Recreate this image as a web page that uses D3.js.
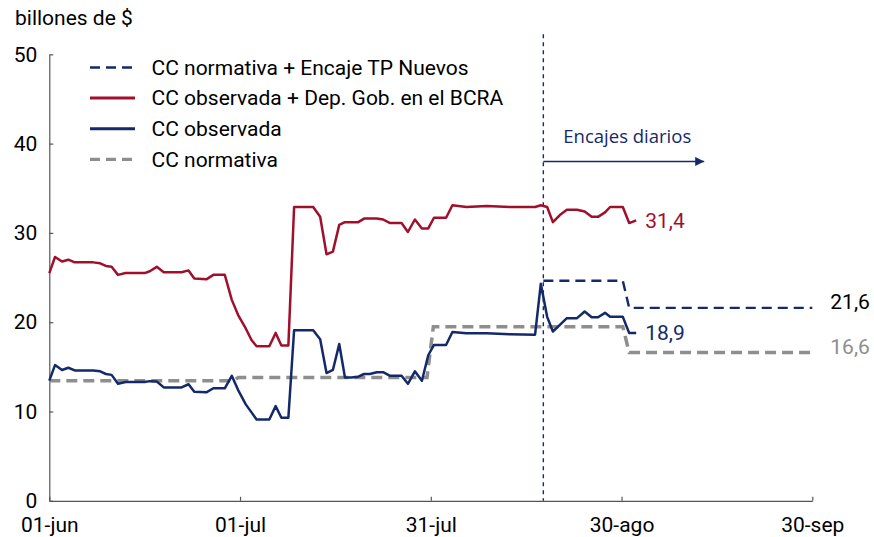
<!DOCTYPE html>
<html>
<head>
<meta charset="utf-8">
<script src="https://cdn.jsdelivr.net/npm/d3@7"></script>
<style>
  html, body { margin: 0; padding: 0; background: #fff; }
  svg { display: block; font-family: Roboto, "Noto Sans", sans-serif; }
</style>
</head>
<body>
<svg id="chart" width="874" height="537"></svg>
<script>
// ---------- DATA ----------
const xTickDays   = [0, 30, 60, 90, 120];
const xTickLabels = ["01-jun", "01-jul", "31-jul", "30-ago", "30-sep"];
const yTicks      = [0, 10, 20, 30, 40, 50];

// days since 01-jun for the observed series
const obsDays = [0, 0.9, 2, 3, 4, 6.9, 8, 8.9, 9.8, 10.8, 12, 15, 15.8, 16.9, 18, 20.8, 21.9, 22.8, 24.7, 25.8,
  27.6, 28.7, 29.7, 30.9, 31.8, 32.6, 34.6, 35.6, 36.5, 37.6, 38.5, 41.5, 42.6, 43.6, 44.6, 45.6, 46.5, 47.5,
  48.6, 49.5, 50.4, 51.5, 52.5, 53.6, 55.4, 56.4, 57.5, 58.6, 59.6, 60.5, 62.4, 63.4, 65.6, 68.8, 72.4, 76.4,
  77.3, 78.3, 79.2, 80.3, 81.4, 83, 84.2, 85.3, 86.3, 87.4, 88.2, 90.2, 91.2, 92.3];

// CC observada + Dep. Gob. en el BCRA
const ccObsGob = [25.5, 27.3, 26.8, 27.0, 26.7, 26.7, 26.6, 26.3, 26.2, 25.3, 25.5, 25.5, 25.7, 26.2, 25.6, 25.6, 25.8, 24.9, 24.8, 25.3,
  25.3, 22.5, 20.8, 19.3, 18.0, 17.3, 17.3, 18.8, 17.4, 17.4, 32.9, 32.9, 31.8, 27.6, 27.9, 30.9, 31.2, 31.2,
  31.2, 31.6, 31.6, 31.6, 31.5, 31.1, 31.1, 30.1, 31.5, 30.5, 30.5, 31.7, 31.7, 33.1, 32.9, 33.0, 32.9, 32.9,
  33.1, 32.9, 31.2, 32.0, 32.6, 32.6, 32.4, 31.8, 31.8, 32.3, 32.9, 32.9, 31.1, 31.4];

// CC observada
const ccObs = [13.45, 15.2, 14.65, 14.9, 14.6, 14.6, 14.5, 14.2, 14.1, 13.1, 13.3, 13.3, 13.4, 13.35, 12.7, 12.7, 13.05, 12.2, 12.15, 12.6,
  12.6, 14.0, 12.4, 10.8, 9.9, 9.1, 9.1, 10.6, 9.3, 9.3, 19.1, 19.1, 18.1, 14.3, 14.65, 17.55, 13.8, 13.8,
  13.9, 14.2, 14.2, 14.4, 14.4, 14.0, 14.0, 13.1, 14.5, 13.45, 16.3, 17.45, 17.45, 18.9, 18.75, 18.75, 18.65, 18.6,
  24.3, 20.6, 18.95, 19.7, 20.45, 20.45, 21.2, 20.55, 20.55, 21.05, 20.6, 20.6, 18.8, 18.8];

// CC normativa (step series)
const normDays   = [0, 29, 29.7, 59.4, 60.4, 90.2, 91.2, 120];
const ccNorm     = [13.45, 13.45, 13.8, 13.8, 19.5, 19.5, 16.6, 16.6];

// CC normativa + Encaje TP Nuevos
const normTPDays = [77.7, 90.2, 91.2, 120];
const ccNormTP   = [24.65, 24.65, 21.6, 21.6];

const encajesStartDay = 77.7;
const arrowEndDay = 103;
const arrowValue = 38;
const encajesLabel = "Encajes diarios";

const seriesNames = [
  "CC normativa + Encaje TP Nuevos",
  "CC observada + Dep. Gob. en el BCRA",
  "CC observada",
  "CC normativa"
];
const endLabels = { obsGob: "31,4", obs: "18,9", normTP: "21,6", norm: "16,6" };

// ---------- STYLE ----------
const RED = "#A0102D", NAVY = "#13296A", GRAY = "#8E8E8E", AXIS = "#555";
const FS = "21px";

const svg = d3.select("#chart");
const x = d3.scaleLinear().domain([0, 120]).range([49.3, 812.3]);
const y = d3.scaleLinear().domain([0, 50]).range([500.8, 54.3]);

const zip = (xs, ys) => xs.map((d, i) => [d, ys[i]]);
const line = d3.line().x(d => x(d[0])).y(d => y(d[1]));

// axes
const xAxis = d3.axisBottom(x).tickValues(xTickDays)
  .tickFormat((d, i) => xTickLabels[i]).tickSizeInner(-4).tickSizeOuter(0).tickPadding(16);
const yAxis = d3.axisLeft(y).tickValues(yTicks)
  .tickSizeInner(-4).tickSizeOuter(0).tickPadding(12);

const gx = svg.append("g").attr("transform", `translate(0,${y(0)})`).call(xAxis);
const gy = svg.append("g").attr("transform", `translate(${x(0)},0)`).call(yAxis);
[gx, gy].forEach(g => {
  g.select(".domain").attr("stroke", AXIS).attr("stroke-width", 1.2);
  g.selectAll(".tick line").attr("stroke", AXIS).attr("stroke-width", 1.2);
  g.selectAll(".tick text").attr("fill", "#000").style("font-size", FS)
    .style("font-family", "Roboto, sans-serif");
});

// unit label
svg.append("text").attr("x", 15).attr("y", 25).text("billones de $")
  .style("font-size", FS).attr("fill", "#000");

// vertical marker
svg.append("line")
  .attr("x1", x(encajesStartDay)).attr("x2", x(encajesStartDay))
  .attr("y1", y(50) - 20).attr("y2", y(0))
  .attr("stroke", NAVY).attr("stroke-width", 1.4).attr("stroke-dasharray", "4,4");

// arrow
svg.append("defs").append("marker")
  .attr("id", "arrow").attr("viewBox", "0 0 10 10").attr("refX", 10).attr("refY", 5)
  .attr("markerWidth", 10).attr("markerHeight", 9).attr("markerUnits", "userSpaceOnUse")
  .attr("orient", "auto")
  .append("path").attr("d", "M0,0 L10,5 L0,10 Z").attr("fill", NAVY);
svg.append("line")
  .attr("x1", x(encajesStartDay)).attr("x2", x(arrowEndDay))
  .attr("y1", y(arrowValue)).attr("y2", y(arrowValue))
  .attr("stroke", NAVY).attr("stroke-width", 1.5).attr("marker-end", "url(#arrow)");
svg.append("text")
  .attr("x", x(encajesStartDay) + 20).attr("y", y(arrowValue) - 18)
  .text(encajesLabel).attr("fill", NAVY)
  .style("font-family", "'Open Sans', sans-serif").style("font-size", "18.5px");

// series
svg.append("path").datum(zip(normDays, ccNorm)).attr("d", line)
  .attr("fill", "none").attr("stroke", GRAY).attr("stroke-width", 3.5).attr("stroke-dasharray", "11,6");
svg.append("path").datum(zip(normTPDays, ccNormTP)).attr("d", line)
  .attr("fill", "none").attr("stroke", NAVY).attr("stroke-width", 2.4).attr("stroke-dasharray", "10,6");
svg.append("path").datum(zip(obsDays, ccObsGob)).attr("d", line)
  .attr("fill", "none").attr("stroke", RED).attr("stroke-width", 2.5).attr("stroke-linejoin", "round");
svg.append("path").datum(zip(obsDays, ccObs)).attr("d", line)
  .attr("fill", "none").attr("stroke", NAVY).attr("stroke-width", 2.5).attr("stroke-linejoin", "round");

// end labels
const lastObs = obsDays[obsDays.length - 1];
svg.append("text").attr("x", x(lastObs) + 9).attr("y", y(ccObsGob[ccObsGob.length - 1]))
  .attr("dy", "0.35em").text(endLabels.obsGob).attr("fill", RED).style("font-size", FS);
svg.append("text").attr("x", x(lastObs) + 9).attr("y", y(ccObs[ccObs.length - 1]))
  .attr("dy", "0.35em").text(endLabels.obs).attr("fill", NAVY).style("font-size", FS);
svg.append("text").attr("x", x(120) + 18).attr("y", y(ccNormTP[ccNormTP.length - 1]) + 1)
  .text(endLabels.normTP).attr("fill", "#000").style("font-size", FS);
svg.append("text").attr("x", x(120) + 18).attr("y", y(ccNorm[ccNorm.length - 1]) + 1)
  .text(endLabels.norm).attr("fill", GRAY).style("font-size", FS);

// legend
const legendStyles = [
  { color: NAVY, width: 2.6, dash: "10,6" },
  { color: RED,  width: 3,   dash: null },
  { color: NAVY, width: 3,   dash: null },
  { color: GRAY, width: 3.2, dash: "10,6" }
];
const legend = svg.append("g");
seriesNames.forEach((name, i) => {
  const yy = 67.5 + i * 30.6;
  const st = legendStyles[i];
  legend.append("line").attr("x1", 90).attr("x2", 135).attr("y1", yy).attr("y2", yy)
    .attr("stroke", st.color).attr("stroke-width", st.width)
    .attr("stroke-dasharray", st.dash);
  legend.append("text").attr("x", 151.5).attr("y", yy).attr("dy", "0.35em")
    .text(name).attr("fill", "#000").style("font-size", FS);
});
</script>
</body>
</html>
